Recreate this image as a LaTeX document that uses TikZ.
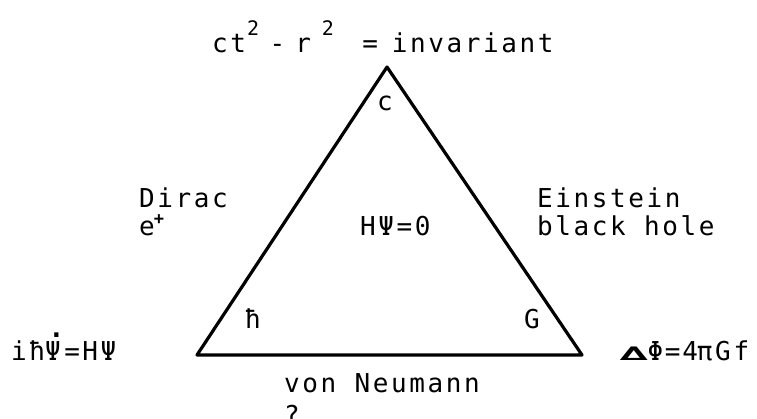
\documentclass[tikz,border=0pt]{standalone}
\usepackage{fontspec}
\newfontfamily\tw[LetterSpace=10]{DejaVu Sans Mono}
\newcommand{\supr}[1]{\raisebox{17pt}{\fontsize{20}{20}\selectfont #1}}
\newcommand{\plussup}{\hspace{-1pt}\raisebox{10.5pt}{\fontsize{17}{17}\selectfont\bfseries +}}
\newcommand{\dotpsi}{\ooalign{Ψ\cr\hspace{3.5pt}\raisebox{23pt}{\bfseries .}\cr}}
\newcommand{\flatdelta}{\scalebox{1.75}[0.75]{\bfseries\itshape ∆}}
\tikzset{
  lbl/.style={anchor=base west, inner sep=0pt, font=\tw\fontsize{26}{30}\selectfont},
  edge/.style={line width=3.2pt, line join=round, line cap=round}
}
\begin{document}
\begin{tikzpicture}[x=1pt,y=-1pt]
\path[use as bounding box, fill=white] (0,0) rectangle (757,418);
% triangle
\coordinate (apex) at (387,67);
\coordinate (bl) at (197,355);
\coordinate (br) at (582,355);
\draw[edge] (apex) -- (bl) -- (br) -- cycle;
% labels
\node[lbl] (title) at (212,52) {ct\hspace{1pt}\supr{2}\hspace{10.5pt}-\hspace{10pt}r\hspace{11pt}\supr{2}\hspace{28.5pt}=\hspace{13.7pt}invariant};
\node[lbl] (c) at (377,110) {c};
\node[lbl] (dirac) at (139,207) {Dirac};
\node[lbl] (epos) at (139,235) {e\plussup};
\node[lbl] (einstein) at (537,207) {Einstein};
\node[lbl] (bh) at (537,235) {black hole};
\node[lbl] (hpsi) at (360,235) {HΨ=0};
\node[lbl] (hbar) at (245,328) {ħ};
\node[lbl] (G) at (524,328) {G};
\node[lbl] (schr) at (11,360) {iħ\dotpsi=HΨ};
\node[lbl] (poisson) at (620,360) {\flatdelta\hspace{0pt}Φ\hspace{1.75pt}=\hspace{1.75pt}4\hspace{-1.25pt}π\hspace{2.75pt}G\hspace{2.75pt}f};
\node[lbl] (vn) at (284,392) {von Neumann};
\node[lbl] (q) at (284,424) {?};
\end{tikzpicture}
\end{document}
